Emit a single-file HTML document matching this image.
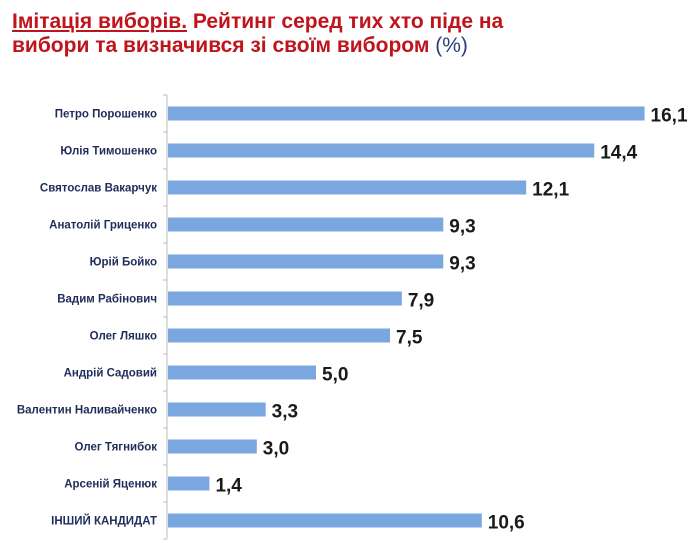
<!DOCTYPE html>
<html><head><meta charset="utf-8"><style>
body{margin:0;width:700px;height:541px;background:#fff;overflow:hidden;font-family:"Liberation Sans",Arial,sans-serif}
.t{position:absolute;left:12px;font-weight:bold;font-size:21px;color:#c0141c;line-height:24px;white-space:nowrap}
</style></head><body>
<div class="t" style="top:10px"><span style="text-decoration:underline">Імітація виборів.</span> Рейтинг серед тих хто піде на</div>
<div class="t" style="top:34px">вибори та визначився зі своїм вибором <span style="color:#2a3f7a;font-weight:normal">(%)</span></div>
<svg id="c" width="700" height="541" style="position:absolute;left:0;top:0"></svg>
<script>
const categories=["Петро Порошенко","Юлія Тимошенко","Святослав Вакарчук","Анатолій Гриценко","Юрій Бойко","Вадим Рабінович","Олег Ляшко","Андрій Садовий","Валентин Наливайченко","Олег Тягнибок","Арсеній Яценюк","ІНШИЙ КАНДИДАТ"];
const values=[16.1,14.4,12.1,9.3,9.3,7.9,7.5,5.0,3.3,3.0,1.4,10.6];
const valueLabels=["16,1","14,4","12,1","9,3","9,3","7,9","7,5","5,0","3,3","3,0","1,4","10,6"];
const svg=document.getElementById('c');const NS='http://www.w3.org/2000/svg';
const x0=168,sx=29.6,y0=95,step=37;
const xs=v=>x0+v*sx, yc=i=>y0+step*(i+0.5);
function mk(t,a){const e=document.createElementNS(NS,t);for(const k in a)e.setAttribute(k,a[k]);svg.appendChild(e);return e;}
const ax=mk('line',{x1:167,y1:y0,x2:167,y2:y0+step*categories.length,stroke:'#bbb','stroke-width':1});


for(let i=0;i<=categories.length;i++){const tk=mk('line',{x1:163,x2:167,y1:y0+step*i,y2:y0+step*i,stroke:'#bbb'});

}
categories.forEach((c,i)=>{
const r=mk('rect',{x:x0,y:yc(i)-7,width:xs(values[i])-x0,height:14,fill:'#7aa7e0'});


const l=mk('text',{x:157,y:yc(i)+4,'text-anchor':'end','font-size':11.5,'font-weight':'bold',fill:'#1f2d5a'});l.textContent=c;


const v=mk('text',{x:xs(values[i])+6,y:yc(i)+8,'font-size':19,'font-weight':'bold',fill:'#1a1a1a'});v.textContent=valueLabels[i];


});
</script>
</body></html>
